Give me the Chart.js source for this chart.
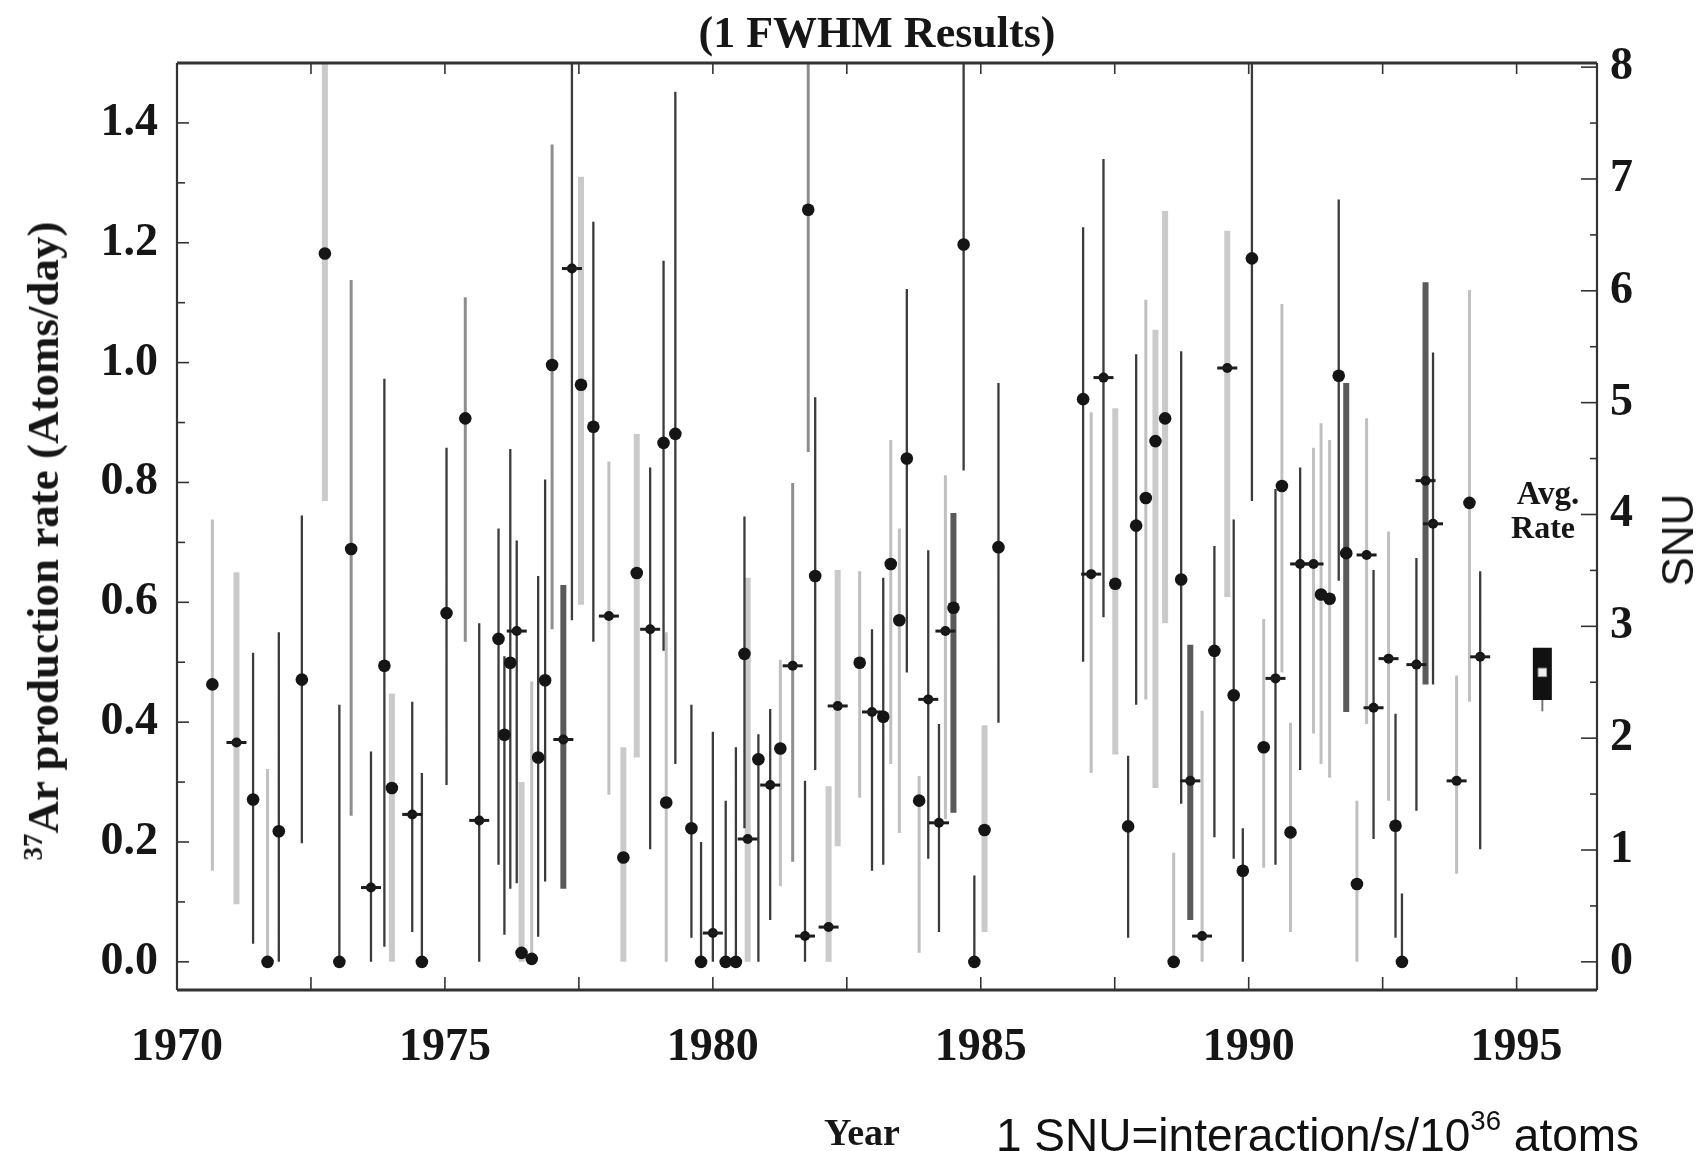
<!DOCTYPE html>
<html>
<head>
<meta charset="utf-8">
<script src="https://cdn.jsdelivr.net/npm/chart.js@4/dist/chart.umd.min.js"></script>
<style>
html,body{margin:0;padding:0;background:#fff;}
#wrap{position:relative;width:1706px;height:1151px;overflow:hidden;background:#fff;}
#c{position:absolute;left:0;top:0;}
.t{position:absolute;white-space:nowrap;color:#161616;line-height:1;transform:translate(-50%,-50%);}
.serif{font-family:"Liberation Serif","Times New Roman",serif;font-weight:bold;}
.sans{font-family:"Liberation Sans",Arial,sans-serif;font-weight:normal;}
.rot{transform:translate(-50%,-50%) rotate(-90deg);}
</style>
</head>
<body>
<div id="wrap">
  <canvas id="c" width="1706" height="1151"></canvas>
  <div class="t serif" id="title" style="left:877px;top:33px;font-size:44px;">(1 FWHM Results)</div>
  <div class="t serif rot" id="ytitle" style="left:43px;top:541px;font-size:45px;"><span style="font-size:0.6em;vertical-align:0.6em;">37</span>Ar production rate (Atoms/day)</div>
  <div class="t sans rot" id="snutitle" style="left:1678px;top:540px;font-size:44px;">SNU</div>
  <div class="t serif" style="left:1548px;top:493px;font-size:33px;">Avg.</div>
  <div class="t serif" style="left:1543px;top:527px;font-size:32px;">Rate</div>
  <div class="t serif" style="left:862px;top:1132px;font-size:38px;">Year</div>
  <div class="sans" style="position:absolute;left:996px;top:1107px;font-size:46px;line-height:1;white-space:nowrap;color:#111;">1 SNU=interaction/s/10<span style="font-size:0.6em;vertical-align:0.75em;">36</span> atoms</div>
</div>
<script>
// ---------------- data ----------------
const years = [
  1970.66, 1971.11, 1971.42, 1971.69, 1971.90, 1972.33, 1972.76, 1973.03, 1973.25, 1973.62,
  1973.87, 1974.01, 1974.39, 1974.57, 1975.03, 1975.38, 1975.64, 1976.00, 1976.11, 1976.22,
  1976.34, 1976.43, 1976.62, 1976.74, 1976.87, 1977.00, 1977.21, 1977.37, 1977.54, 1977.77,
  1978.06, 1978.33, 1978.58, 1978.83, 1979.08, 1979.13, 1979.30, 1979.60, 1979.78, 1980.00,
  1980.24, 1980.43, 1980.59, 1980.65, 1980.85, 1981.07, 1981.26, 1981.49, 1981.72, 1981.78,
  1981.91, 1982.16, 1982.33, 1982.74, 1982.97, 1983.18, 1983.32, 1983.48, 1983.62, 1983.85,
  1984.02, 1984.22, 1984.34, 1984.49, 1984.68, 1984.88, 1985.07, 1985.33, 1986.91, 1987.06,
  1987.29, 1987.51, 1987.75, 1987.90, 1988.08, 1988.26, 1988.44, 1988.60, 1988.74, 1988.91,
  1989.13, 1989.36, 1989.60, 1989.72, 1989.89, 1990.06, 1990.28, 1990.50, 1990.62, 1990.78,
  1990.96, 1991.21, 1991.35, 1991.51, 1991.68, 1991.82, 1992.02, 1992.20, 1992.33, 1992.61,
  1992.74, 1992.86, 1993.13, 1993.30, 1993.44, 1993.88, 1994.12, 1994.32
];
const rates = [
  0.463, 0.366, 0.271, 0.000, 0.218, 0.471, 1.182, 0.000, 0.689, 0.124,
  0.494, 0.290, 0.246, 0.000, 0.582, 0.907, 0.236, 0.539, 0.379, 0.499,
  0.552, 0.015, 0.005, 0.341, 0.470, 0.996, 0.371, 1.157, 0.963, 0.893,
  0.577, 0.174, 0.649, 0.555, 0.866, 0.266, 0.881, 0.223, 0.000, 0.048,
  0.000, 0.000, 0.514, 0.205, 0.338, 0.295, 0.356, 0.494, 0.043, 1.255,
  0.644, 0.058, 0.427, 0.499, 0.417, 0.409, 0.664, 0.570, 0.840, 0.269,
  0.438, 0.232, 0.552, 0.591, 1.197, 0.000, 0.220, 0.692, 0.939, 0.647,
  0.975, 0.631, 0.226, 0.728, 0.774, 0.869, 0.907, 0.000, 0.638, 0.302,
  0.043, 0.519, 0.991, 0.445, 0.152, 1.174, 0.358, 0.473, 0.794, 0.216,
  0.664, 0.664, 0.613, 0.606, 0.978, 0.682, 0.130, 0.679, 0.424, 0.506,
  0.227, 0.000, 0.496, 0.803, 0.731, 0.302, 0.766, 0.509
];
const errLow = [
  0.152, 0.096, 0.030, 0.000, 0.000, 0.198, 0.769, 0.000, 0.244, 0.000,
  0.025, 0.000, 0.050, 0.000, 0.295, 0.534, 0.000, 0.162, 0.045, 0.122,
  0.131, 0.000, 0.000, 0.042, 0.134, 0.555, 0.122, 0.570, 0.596, 0.534,
  0.279, 0.000, 0.341, 0.188, 0.519, 0.000, 0.330, 0.040, 0.000, 0.000,
  0.000, 0.000, 0.223, 0.000, 0.000, 0.070, 0.126, 0.167, 0.000, 0.851,
  0.320, 0.000, 0.193, 0.274, 0.152, 0.162, 0.330, 0.215, 0.483, 0.015,
  0.172, 0.050, 0.238, 0.249, 0.820, 0.000, 0.050, 0.399, 0.501, 0.315,
  0.575, 0.346, 0.040, 0.429, 0.438, 0.290, 0.565, 0.000, 0.264, 0.070,
  0.000, 0.208, 0.609, 0.172, 0.000, 0.769, 0.157, 0.162, 0.483, 0.050,
  0.320, 0.381, 0.330, 0.307, 0.636, 0.417, 0.000, 0.397, 0.205, 0.269,
  0.040, 0.000, 0.252, 0.463, 0.463, 0.147, 0.434, 0.188
];
const errHigh = [
  0.738, 0.650, 0.516, 0.322, 0.550, 0.745, 1.600, 0.429, 1.138, 0.351,
  0.973, 0.448, 0.434, 0.315, 0.858, 1.109, 0.565, 0.723, 0.510, 0.856,
  0.703, 0.300, 0.468, 0.644, 0.805, 1.364, 0.629, 1.600, 1.310, 1.235,
  0.835, 0.358, 0.881, 0.825, 1.170, 0.550, 1.452, 0.429, 0.200, 0.384,
  0.269, 0.358, 0.743, 0.641, 0.380, 0.422, 0.504, 0.799, 0.302, 1.600,
  0.942, 0.293, 0.654, 0.652, 0.555, 0.641, 0.871, 0.723, 1.123, 0.310,
  0.687, 0.397, 0.812, 0.749, 1.600, 0.144, 0.395, 0.966, 1.226, 0.917,
  1.340, 0.924, 0.344, 1.014, 1.105, 1.055, 1.253, 0.182, 1.019, 0.529,
  0.419, 0.694, 1.220, 0.738, 0.223, 1.600, 0.572, 0.789, 1.098, 0.399,
  0.825, 0.858, 0.899, 0.871, 1.272, 0.966, 0.269, 0.907, 0.654, 0.718,
  0.414, 0.114, 0.674, 1.134, 1.017, 0.478, 1.121, 0.652
];
// error-bar shade class per run (D dark, L light, W light wide, M medium, G dark-gray wide)
const barShade = ("LWDLDDWDMD" + "DWDDDMDDDD" + "DWLDDMGDWD" + "LWWDDLDDDD" + "DDDWDDLMDM" +
                  "DWWLDDLLDL" + "DDLGDDWDDL" + "DWDDLWWLDG" + "LDWDDDLDLL" + "DLLLDGLLDL" + "DDDGDLLD").split("");
// marker kind per run ('o' blob, '-' blob with dash)
const markerKind = ("o-ooooooo-" + "oo-ooo-ooo" + "-ooooo--oo" + "-oo-ooooo-" + "ooo-o-o--o" +
                    "o--o-ooooo" + "---oooooo-" + "-oooooooo-" + "-o-oooo-oo" + "--ooooo---" + "oo----o-").split("");

const avgYear = 1995.48;
const avgLow = 0.437;
const avgHigh = 0.524;
const avgTail = 0.418;
const avgMark = 0.483;

const xTickValues = [1970, 1975, 1980, 1985, 1990, 1995];
const yTickValues = [0.0, 0.2, 0.4, 0.6, 0.8, 1.0, 1.2, 1.4];
const snuTickValues = [0, 1, 2, 3, 4, 5, 6, 7, 8];

const SNU_PER_RATE = 5.358;
const X_MIN = 1970, X_MAX = 1996.5, Y_MIN = -0.047, Y_MAX = 1.5;

// ---------------- styling ----------------
const shadeStyle = {
  D: {color: '#3b3b3b', width: 2.3, order: 3},
  G: {color: '#5a5a5a', width: 6,   order: 4},
  M: {color: '#8e8e8e', width: 3,   order: 5},
  L: {color: '#c0c0c0', width: 3,   order: 6},
  W: {color: '#cacaca', width: 6,   order: 7}
};

function barData(code) {
  const d = [];
  years.forEach((x, i) => {
    if (barShade[i] === code) {
      d.push({x: x, y: errLow[i]}, {x: x, y: errHigh[i]}, {x: x, y: null});
    }
  });
  return d;
}
function pointData(kind) {
  const d = [];
  years.forEach((x, i) => { if (kind === null || markerKind[i] === kind) d.push({x: x, y: rates[i]}); });
  return d;
}

const datasets = [];
Object.keys(shadeStyle).forEach(code => {
  const s = shadeStyle[code];
  datasets.push({
    type: 'line', data: barData(code), borderColor: s.color, borderWidth: s.width,
    borderCapStyle: 'butt', pointRadius: 0, spanGaps: false, fill: false, order: s.order
  });
});
datasets.push({
  type: 'scatter', data: pointData('o'), pointStyle: 'circle', pointRadius: 6.3,
  backgroundColor: '#151515', borderColor: '#151515', borderWidth: 0, order: 1
});
datasets.push({
  type: 'scatter', data: pointData('-'), pointStyle: 'line', pointRadius: 10,
  borderColor: '#1c1c1c', borderWidth: 3, order: 1
});
datasets.push({
  type: 'scatter', data: pointData('-'), pointStyle: 'circle', pointRadius: 5,
  backgroundColor: '#151515', borderWidth: 0, order: 1
});
// average rate box
datasets.push({
  type: 'line', data: [{x: avgYear, y: avgTail}, {x: avgYear, y: avgLow}],
  borderColor: '#777', borderWidth: 2, borderCapStyle: 'butt', pointRadius: 0, order: 2
});
datasets.push({
  type: 'line', data: [{x: avgYear, y: avgLow}, {x: avgYear, y: avgHigh}],
  borderColor: '#111', borderWidth: 19, borderCapStyle: 'butt', pointRadius: 0, order: 2
});
datasets.push({
  type: 'scatter', data: [{x: avgYear, y: avgMark}], pointStyle: 'rect', pointRadius: 6,
  backgroundColor: '#efefef', borderColor: '#999', borderWidth: 1, order: 0
});

const serifTick = {family: "'Liberation Serif','Times New Roman',serif", weight: 'bold', size: 46};

const framePlugin = {
  id: 'frame',
  afterDraw(chart) {
    const {ctx, chartArea: a} = chart;
    const sx = chart.scales.x, sy = chart.scales.y, s2 = chart.scales.y2;
    ctx.save();
    ctx.strokeStyle = '#333';
    const seg = (x1, y1, x2, y2, w) => { ctx.lineWidth = w; ctx.beginPath(); ctx.moveTo(x1, y1); ctx.lineTo(x2, y2); ctx.stroke(); };
    // inner ticks
    for (let v = X_MIN + 2.5; v < X_MAX; v += 2.5) {
      const px = sx.getPixelForValue(v);
      seg(px, a.bottom, px, a.bottom - 13, 1.6);
      seg(px, a.top, px, a.top + 11, 1.6);
    }
    for (let k = 0; k <= 14; k++) {
      const py = sy.getPixelForValue(k / 10);
      seg(a.left, py, a.left + (k % 2 === 0 ? 12 : 8), py, 1.6);
    }
    for (let k = 0; k <= 16; k++) {
      const py = s2.getPixelForValue(k / 2);
      seg(a.right, py, a.right - (k % 2 === 0 ? 16 : 7), py, 1.6);
    }
    // frame
    seg(a.left, a.top, a.right, a.top, 3);
    seg(a.left, a.bottom, a.right, a.bottom, 3);
    seg(a.left, a.top, a.left, a.bottom, 2.2);
    seg(a.right, a.top, a.right, a.bottom, 2.2);
    ctx.restore();
  }
};

new Chart(document.getElementById('c'), {
  data: {datasets: datasets},
  options: {
    responsive: false,
    animation: false,
    devicePixelRatio: 1,
    layout: {padding: {top: 63, left: 0, right: 0, bottom: 0}},
    plugins: {legend: {display: false}, tooltip: {enabled: false}, title: {display: false}},
    scales: {
      x: {
        type: 'linear', position: 'bottom', min: X_MIN, max: X_MAX,
        afterBuildTicks: s => { s.ticks = xTickValues.map(v => ({value: v})); },
        afterFit: s => { s.height = 161; },
        grid: {display: false, drawTicks: false}, border: {display: false},
        ticks: {font: serifTick, color: '#161616', padding: 31, maxRotation: 0, autoSkip: false,
                callback: v => String(v)}
      },
      y: {
        type: 'linear', position: 'left', min: Y_MIN, max: Y_MAX,
        afterBuildTicks: s => { s.ticks = yTickValues.map(v => ({value: v})); },
        afterFit: s => { s.width = 177; },
        grid: {display: false, drawTicks: false}, border: {display: false},
        ticks: {font: serifTick, color: '#161616', padding: 19, callback: v => Number(v).toFixed(1)}
      },
      y2: {
        type: 'linear', position: 'right', min: Y_MIN * SNU_PER_RATE, max: Y_MAX * SNU_PER_RATE,
        afterBuildTicks: s => { s.ticks = snuTickValues.map(v => ({value: v})); },
        afterFit: s => { s.width = 109; },
        grid: {display: false, drawTicks: false}, border: {display: false},
        ticks: {font: serifTick, color: '#161616', padding: 13, callback: v => String(v)}
      }
    }
  },
  plugins: [framePlugin]
});
</script>
</body>
</html>
